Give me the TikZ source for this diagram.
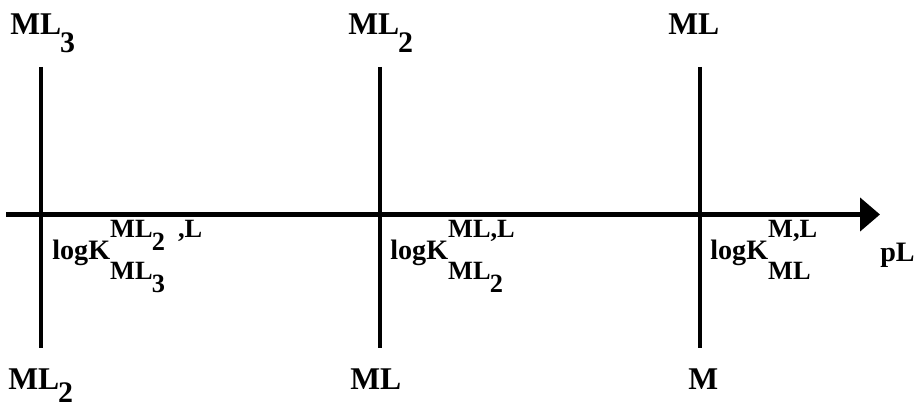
\documentclass[tikz,border=0pt]{standalone}
\usepackage{fontspec}
\setmainfont{Liberation Serif}
\usetikzlibrary{arrows.meta}

% species with a dropped index, and stability constants
\newcommand{\spc}[3][0.55em]{#2\kern-0.04em\raisebox{-#1}{\fontsize{17}{17}\selectfont #3}}
\newcommand{\lgk}[2]{logK\rlap{\raisebox{0.8em}{\fontsize{15}{15}\selectfont #1}}%
  \raisebox{-0.7em}{\fontsize{15}{15}\selectfont #2}}
\newcommand{\idx}[1]{\kern-0.03em\raisebox{-0.5em}{#1}}

\tikzset{
  species/.style={anchor=base west,inner sep=0pt,
    font=\fontsize{18}{20}\selectfont\bfseries},
  constant/.style={anchor=base west,inner sep=0pt,
    font=\fontsize{16}{18}\selectfont\bfseries},
  bar/.style={line width=2.6pt}
}

\begin{document}
\begin{tikzpicture}[x=0.02cm,y=0.02cm]
  \useasboundingbox (0,0) rectangle (917,408);
  %
  \coordinate (axisstart) at (6,193.5);
  \coordinate (axisend) at (880,193.5);
  \draw[bar,-{Triangle[length=0.4cm,width=0.66cm]}] (axisstart) -- (axisend);
  %
  \foreach \x/\n in {41/a,380/b,700/c}
    {\coordinate (top\n) at (\x,341);
     \coordinate (bot\n) at (\x,60);
     \draw[bar] (top\n) -- (bot\n);}
  %
  \node[species] (upa) at (10,373) {\spc{ML}{3}};
  \node[species] (upb) at (348,373) {\spc{ML}{2}};
  \node[species] (upc) at (668,373) {ML};
  \node[species] (lowa) at (8,18) {\spc[0.4em]{ML}{2}};
  \node[species] (lowb) at (350,18) {ML};
  \node[species] (lowc) at (688,18) {M};
  %
  \node[constant] (ka) at (52,148) {\lgk{ML\idx{2}\ \ ,L}{ML\idx{3}}};
  \node[constant] (kb) at (390,148) {\lgk{ML,L}{ML\idx{2}}};
  \node[constant] (kc) at (710,148) {\lgk{M,L}{ML}};
  \node[constant] (pl) at (880,146) {pL};
\end{tikzpicture}
\end{document}
